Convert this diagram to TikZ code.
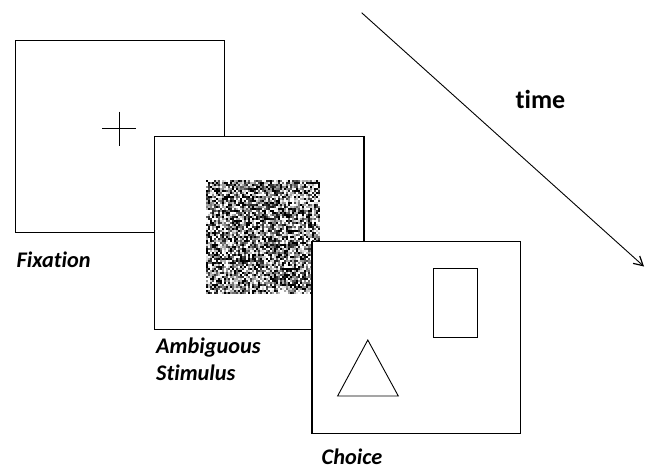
\documentclass[tikz,border=0pt]{standalone}
\usepackage{fontspec}
\setmainfont[Ligatures=NoCommon]{Carlito}
\usetikzlibrary{arrows.meta}
\begin{document}
\begin{tikzpicture}[x=1pt,y=-1pt,
  screen/.style={draw=black, line width=1.1pt, fill=white, minimum width=#1, inner sep=0pt, outer sep=0pt},
  lbl/.style={font=\fontsize{22.3}{26.5}\selectfont\bfseries\itshape, inner sep=0pt, anchor=west, align=left},
  thin/.style={line width=0.9pt}]
\useasboundingbox (0,0) rectangle (647,471);
% Fixation screen
\node[screen=209pt, minimum height=192pt, anchor=north west] (fix) at (15.3,40.7) {};
\coordinate (cl) at (102,128.3); \coordinate (cr) at (136,128.3);
\coordinate (ct) at (119.4,111.7); \coordinate (cb) at (119.4,146);
\draw[thin] (cl) -- (cr);
\draw[thin] (ct) -- (cb);
% Stimulus screen
\node[screen=209.5pt, minimum height=193pt, anchor=north west] (stim) at (154.5,136.3) {};
\pgfmathsetseed{7}
\begin{scope}[shift={(205.8,179.5)}]
\foreach \i in {0,...,56} {
  \foreach \j in {0,...,56} {
    \pgfmathsetmacro\g{int(min(100,max(0,(rnd*1.5-0.25)*100)))}
    \fill[black!\g] (\i*2,\j*2) rectangle ++(2.05,2.05);
  }
}
\end{scope}
\node[inner sep=0pt, minimum width=114pt, minimum height=114pt, anchor=north west] (noise) at (205.8,179.5) {};
% Choice screen
\node[screen=208.7pt, minimum height=191.6pt, anchor=north west] (choice) at (312,241.7) {};
\node[draw=black, thin, minimum width=44pt, minimum height=69pt, inner sep=0pt, anchor=north west] (rect) at (433,268.3) {};
\coordinate (ta) at (367.8,340); \coordinate (tl) at (337.6,396); \coordinate (tr) at (398.3,396);
\draw[thin, line join=miter] (ta) -- (tl) -- (tr) -- cycle;
% time arrow
\coordinate (as) at (361.6,12.7); \coordinate (ae) at (644,266.5);
\draw[thin, -{Straight Barb[length=9pt,width=10pt,line width=1.2pt]}] (as) -- (ae);
\node[font=\fontsize{26}{30}\selectfont\bfseries, inner sep=0pt] (time) at (540.5,99) {time};
% labels
\node[lbl] (lfix) at (16.5,260) {Fixation};
\node[lbl] (lstim) at (156,359.5) {Ambiguous\\Stimulus};
\node[lbl] (lchoice) at (321.5,457) {Choice};
\end{tikzpicture}
\end{document}
